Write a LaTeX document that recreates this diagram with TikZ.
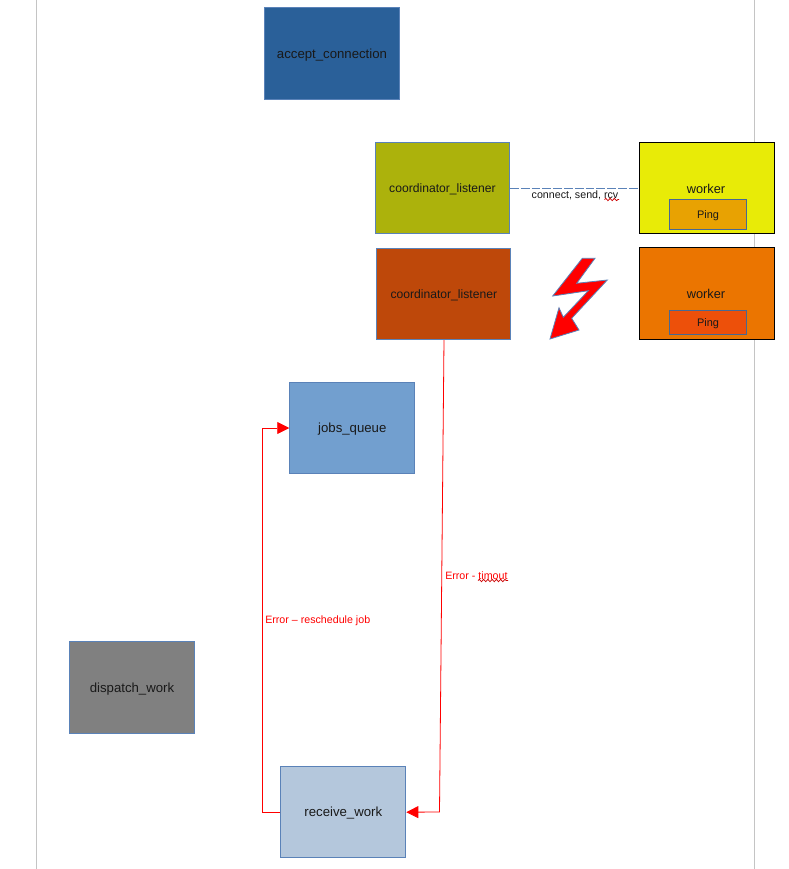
\documentclass[tikz,border=0pt]{standalone}
\usepackage{fontspec}
\setmainfont{Liberation Sans}
\usetikzlibrary{arrows.meta,decorations.pathmorphing}
\definecolor{edgeblue}{HTML}{5A82B8}
\definecolor{guide}{HTML}{C4C4C4}
\definecolor{dashblue}{HTML}{5A82B8}
\tikzset{
  px/.style={x=0.75pt,y=-0.75pt},
  boxnode/.style={draw=edgeblue,line width=0.8pt,inner sep=0pt,minimum width=#1*0.75pt,font=\fontsize{9.9pt}{11pt}\selectfont,text=black!90,text depth=-1pt},
  tall/.style={minimum height=91.5*0.75pt},
  coord/.style={boxnode=134,tall,font=\fontsize{9.1pt}{10pt}\selectfont},
  workerbox/.style={draw=black,line width=0.8pt,inner sep=0pt,minimum width=135*0.75pt,tall},
  pingbox/.style={draw=edgeblue!80!black,line width=0.8pt,inner sep=0pt,minimum width=77*0.75pt,font=\fontsize{8.2pt}{10pt}\selectfont,text=black!90,text depth=-1pt},
  lbl/.style={inner sep=0pt,anchor=west,font=\fontsize{8pt}{9pt}\selectfont},
  errlink/.style={draw=red,line width=0.6pt},
  errtip/.style={-{Triangle[length=12*0.75pt,width=12*0.75pt,fill=red]}},
  squiggle/.style={draw=red!80!black,line width=0.55pt,decorate,decoration={snake,amplitude=0.9pt,segment length=3.2pt}},
  workerlabel/.style={inner sep=0pt,font=\fontsize{9.6pt}{11pt}\selectfont,text=black!90}
}
\begin{document}
\begin{tikzpicture}[px]
\useasboundingbox (0,0) rectangle (789,869);
\coordinate (g1t) at (36.5,0); \coordinate (g1b) at (36.5,869);
\coordinate (g2t) at (754.5,0); \coordinate (g2b) at (754.5,869);
\draw[guide,line width=0.75pt] (g1t) -- (g1b);
\draw[guide,line width=0.75pt] (g2t) -- (g2b);

\node[boxnode=135.5,tall,fill={rgb,255:red,42;green,96;blue,153}] (accept) at (332,53.7) {accept\_connection};
\node[coord,fill={rgb,255:red,172;green,178;blue,12}] (coorda) at (442.5,188) {coordinator\_listener};
\node[coord,fill={rgb,255:red,190;green,72;blue,10}] (coordb) at (443.8,294) {coordinator\_listener};
\node[workerbox,fill={rgb,255:red,232;green,235;blue,7}] (workera) at (706.6,188) {};
\node[workerbox,fill={rgb,255:red,235;green,117;blue,0}] (workerb) at (706.6,293.7) {};
\node[workerlabel] (workeral) at (706,188.5) {worker};
\node[workerlabel] (workerbl) at (706,294) {worker};
\node[pingbox,minimum height=29.5*0.75pt,fill={rgb,255:red,232;green,162;blue,2}] (pinga) at (708,214.7) {Ping};
\node[pingbox,minimum height=24*0.75pt,fill={rgb,255:red,237;green,80;blue,10}] (pingb) at (708,322.5) {Ping};
\node[boxnode=125,tall,fill={rgb,255:red,114;green,159;blue,207}] (jobs) at (352.3,428) {jobs\_queue};
\node[boxnode=125.5,tall,fill={rgb,255:red,128;green,128;blue,128}] (dispatch) at (132,687.3) {dispatch\_work};
\node[boxnode=125,tall,fill={rgb,255:red,180;green,199;blue,220}] (receive) at (343.3,812.2) {receive\_work};

\draw[dashblue,line width=0.6pt,dash pattern=on 6.5pt off 1.6pt] (coorda.east) -- (workera.west);
\node[inner sep=0pt,font=\fontsize{8pt}{9pt}\selectfont,text=black!90] (conn) at (575,195.3) {connect, send, rcv};
\coordinate (sqa) at (604.5,199.5); \coordinate (sqb) at (619,199.5);
\draw[squiggle] (sqa) -- (sqb);

\coordinate (b1) at (444,340);
\coordinate (b2) at (439.5,812);
\draw[errlink,errtip] (b1) -- (b2) -- (receive.east);
\coordinate (c1) at (262,812.2);
\coordinate (c2) at (262,428);
\draw[errlink,errtip] (receive.west) -- (c1) -- (c2) -- (jobs.west);

\node[lbl,text=red] (errt) at (445,575.5) {Error - timout};
\coordinate (sqc) at (478,580.5); \coordinate (sqd) at (508,580.5);
\draw[squiggle] (sqc) -- (sqd);
\node[lbl,text=red] (errr) at (265,621) {Error – reschedule job};

\draw[draw=edgeblue,line width=0.6pt,fill=red,line join=miter]
  (582.3,258.3) -- (595,258.3) -- (576.7,283.3) -- (607.3,280) -- (571.7,318.3) -- (579,330) -- (550,339) -- (559,307.7) -- (563.3,317.3) -- (588.3,290.7) -- (552.7,296) -- cycle;
\end{tikzpicture}
\end{document}
